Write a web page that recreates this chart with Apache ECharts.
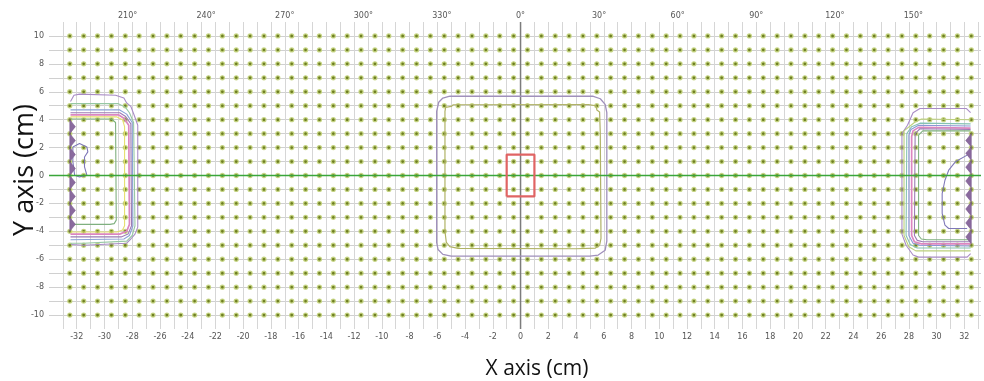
<!DOCTYPE html>
<html><head><meta charset="utf-8">
<script src="https://cdn.jsdelivr.net/npm/echarts@6/dist/echarts.min.js"></script>
<style>html,body{margin:0;padding:0;background:#fff}#c{width:984px;height:381px}</style>
</head><body><div id="c"></div>
<script>
// ---- data (cm) ----
const detectorX = [-32.5,-31.5,-30.5,-29.5,-28.5,-27.5,-26.5,-25.5,-24.5,-23.5,-22.5,-21.5,-20.5,-19.5,-18.5,-17.5,-16.5,-15.5,-14.5,-13.5,-12.5,-11.5,-10.5,-9.5,-8.5,-7.5,-6.5,-5.5,-4.5,-3.5,-2.5,-1.5,-0.5,0.5,1.5,2.5,3.5,4.5,5.5,6.5,7.5,8.5,9.5,10.5,11.5,12.5,13.5,14.5,15.5,16.5,17.5,18.5,19.5,20.5,21.5,22.5,23.5,24.5,25.5,26.5,27.5,28.5,29.5,30.5,31.5,32.5];
const detectorY = [-10,-9,-8,-7,-6,-5,-4,-3,-2,-1,0,1,2,3,4,5,6,7,8,9,10];
const xTickLabels = [-32,-30,-28,-26,-24,-22,-20,-18,-16,-14,-12,-10,-8,-6,-4,-2,0,2,4,6,8,10,12,14,16,18,20,22,24,26,28,30,32];
const yTickLabels = [-10,-8,-6,-4,-2,0,2,4,6,8,10];
const angleTicks = [-150,-120,-90,-60,-30,0,30,60,90,120,150]; // shown as 210°..150°
const xRange = [-34, 33.2];
const yRange = [-11, 11];
const angleRange = [-180, 175.8];

const fieldBox = [[-1,-1.5],[1,-1.5],[1,1.5],[-1,1.5],[-1,-1.5]];
const greenAxisLine = [[-34,0],[33.2,0]];
const centerAxisLine = [[0,-11],[0,11]];

// center contours
const centerOuter = [[-5.1,5.68],[5.2,5.68],[5.75,5.5],[6.1,5.1],[6.22,4.5],[6.22,-4.7],[6.1,-5.35],[5.6,-5.7],[5.0,-5.78],[-5.0,-5.78],[-5.6,-5.65],[-5.95,-5.3],[-6.05,-4.8],[-6.05,4.6],[-5.9,5.25],[-5.6,5.55],[-5.1,5.68]];
const centerInner = [[-5.45,4.6],[-5.4,4.88],[-5.0,4.95],[-4.85,5.07],[4.9,5.08],[5.45,5.0],[5.5,4.7],[5.7,4.55],[5.75,3.0],[5.8,-4.5],[5.7,-5.0],[5.4,-5.2],[4.0,-5.25],[-4.5,-5.22],[-5.1,-5.1],[-5.35,-4.8],[-5.45,-4.0],[-5.45,4.6]];

// left edge contours
const leftC1 = [[-32.45,5.3],[-32.2,5.75],[-31.8,5.83],[-29.2,5.75],[-28.6,5.55],[-28.4,5.2],[-28.1,4.95],[-27.85,4.3],[-27.6,3.6],[-27.6,-3.7],[-27.8,-4.2],[-28.1,-4.55],[-28.4,-4.85],[-31.5,-5.0],[-32.4,-4.95]];
const leftC2 = [[-32.45,5.15],[-29.0,5.15],[-28.5,4.9],[-28.2,4.5],[-27.9,3.8],[-27.8,-3.6],[-28.0,-4.3],[-28.4,-4.7],[-31.5,-4.85],[-32.45,-4.85]];
const leftC3 = [[-32.45,4.7],[-28.9,4.7],[-28.4,4.4],[-28.0,3.8],[-27.95,-3.6],[-28.2,-4.3],[-28.6,-4.55],[-32.45,-4.6]];
const leftC4 = [[-32.45,4.5],[-28.9,4.5],[-28.5,4.25],[-28.1,3.7],[-28.05,-3.6],[-28.3,-4.2],[-28.8,-4.4],[-32.45,-4.4]];
const leftC5 = [[-32.45,4.35],[-29.0,4.35],[-28.6,4.1],[-28.25,3.6],[-28.2,-3.5],[-28.4,-4.0],[-28.9,-4.2],[-32.45,-4.2]];
const leftC6 = [[-32.45,4.2],[-29.1,4.2],[-28.7,4.0],[-28.55,3.5],[-28.55,-3.6],[-28.7,-3.9],[-29.1,-4.05],[-32.45,-4.05]];
const leftC7 = [[-32.45,4.05],[-29.5,4.05],[-29.2,3.8],[-29.15,-3.2],[-29.3,-3.45],[-29.6,-3.5],[-32.45,-3.5]];
const leftBlob = [[-32.28,2.05],[-31.8,2.29],[-31.27,2.05],[-31.2,1.69],[-31.44,1.33],[-31.44,0.62],[-31.27,0.02],[-31.8,-0.1],[-32.15,0.02],[-32.28,1.0],[-32.28,2.05]];
const leftTeeth = [[-32.5,4.0],[-32.1,3.5],[-32.5,3.0],[-32.1,2.5],[-32.5,2.0],[-32.1,1.5],[-32.5,1.0],[-32.1,0.5],[-32.5,0.0],[-32.1,-0.5],[-32.5,-1.0],[-32.1,-1.5],[-32.5,-2.0],[-32.1,-2.5],[-32.5,-3.0],[-32.1,-3.5],[-32.5,-4.0]];

// right edge contours
const rightC1 = [[32.45,4.5],[32.15,4.8],[28.8,4.8],[28.3,4.5],[27.9,3.6],[27.5,3.0],[27.5,-4.2],[27.8,-5.0],[28.3,-5.7],[28.7,-5.85],[32.2,-5.85],[32.45,-5.6]];
const rightC2 = [[32.45,4.0],[28.9,4.05],[28.4,3.8],[27.65,3.2],[27.65,-4.3],[28.0,-5.1],[28.5,-5.4],[32.45,-5.4]];
const rightC3 = [[32.45,3.7],[28.8,3.75],[28.2,3.5],[27.85,3.0],[27.8,-4.3],[28.1,-4.95],[28.6,-5.2],[32.45,-5.2]];
const rightC4 = [[32.45,3.55],[28.7,3.6],[28.15,3.3],[28.0,2.9],[28.0,-4.3],[28.3,-4.85],[28.8,-5.0],[32.45,-5.05]];
const rightC5 = [[32.45,3.4],[28.7,3.45],[28.3,3.2],[28.2,2.8],[28.2,-4.3],[28.4,-4.75],[28.9,-4.9],[32.45,-4.9]];
const rightC6 = [[32.45,3.3],[28.8,3.35],[28.45,3.0],[28.4,-4.3],[28.6,-4.65],[29.0,-4.75],[32.45,-4.75]];
const rightC7 = [[32.45,3.2],[29.0,3.2],[28.7,2.9],[28.7,-4.3],[28.9,-4.55],[29.3,-4.6],[32.45,-4.6]];
const rightBlob = [[32.2,1.46],[31.35,0.98],[30.87,0.38],[30.6,-0.34],[30.4,-1.3],[30.4,-2.72],[30.6,-3.56],[30.87,-3.8],[32.2,-3.8]];
const rightTeeth = [[32.5,3.0],[32.1,2.5],[32.5,2.05],[32.1,1.6],[32.5,1.1],[32.1,0.6],[32.5,0.1],[32.1,-0.4],[32.5,-0.9],[32.1,-1.4],[32.5,-1.9],[32.1,-2.4],[32.5,-2.9],[32.1,-3.4],[32.5,-3.9],[32.1,-4.4],[32.5,-4.9]];

// ---- build ----
const dots = [];
detectorY.forEach(y => detectorX.forEach(x => dots.push([x, y])));

const contourDefs = [
  [leftC1,'#a98cc6',1.1],[leftC2,'#96c8a4',1.1],[leftC3,'#8aa2d6',1.1],[leftC4,'#9c7cb4',1.1],[leftC5,'#dc86c0',1.7],[leftC6,'#e6df6e',1.1],[leftC7,'#7fb07f',1.1],[leftBlob,'#7f78b8',1.1],
  [rightC1,'#a98cc6',1.1],[rightC2,'#bccf7c',1.1],[rightC3,'#86c2b4',1.1],[rightC4,'#8a96d6',1.1],[rightC5,'#dc86c0',1.7],[rightC6,'#9c7cb4',1.1],[rightC7,'#7fb07f',1.1],[rightBlob,'#7f78b8',1.1],
  [centerOuter,'#a090bc',1.3],[centerInner,'#b0b266',1.2]
];

const lineSeries = contourDefs.map(([pts,color,w]) => ({
  type:'line', data: pts, symbol:'none', silent:true, z:4, animation:false,
  lineStyle:{color:color, width:w}
}));

const teeth = [leftTeeth, rightTeeth];

const labelFont = 'DejaVu Sans';
const chart = echarts.init(document.getElementById('c'), null, {renderer:'canvas'});
chart.setOption({
  animation:false,
  backgroundColor:'#ffffff',
  grid:{left:49, top:22, width:935, height:307, containLabel:false},
  xAxis:[{
    type:'value', min:xRange[0], max:xRange[1], interval:1, position:'bottom',
    axisLine:{show:false}, axisTick:{show:false},
    splitLine:{show:true, showMinLine:false, showMaxLine:false, lineStyle:{color:'#d6d6d6', width:1}},
    axisLabel:{margin:4, fontSize:8, color:'#555', fontFamily:labelFont,
      formatter:v => xTickLabels.indexOf(v) >= 0 ? String(v) : ''}
  },{
    type:'value', min:angleRange[0], max:angleRange[1], interval:30, position:'top',
    axisLine:{show:false}, axisTick:{show:false}, splitLine:{show:false},
    axisLabel:{margin:2, fontSize:8, color:'#555', fontFamily:labelFont,
      formatter:v => angleTicks.indexOf(v) >= 0 ? (((v % 360) + 360) % 360) + '°' : ''}
  }],
  yAxis:{
    type:'value', min:yRange[0], max:yRange[1], interval:1,
    axisLine:{show:false}, axisTick:{show:false},
    splitLine:{show:true, showMinLine:false, showMaxLine:false, lineStyle:{color:'#d0d0d0', width:1}},
    axisLabel:{margin:5, fontSize:8, color:'#555', fontFamily:labelFont,
      formatter:v => yTickLabels.indexOf(v) >= 0 ? String(v) : ''}
  },
  graphic:[
    {type:'text', x:537, y:369, style:{text:'X axis (cm)', font:'21px "Open Sans"', fill:'#111', textAlign:'center', textVerticalAlign:'middle'}},
    {type:'text', x:25, y:170, rotation:Math.PI/2, style:{text:'Y axis (cm)', font:'27px "Open Sans"', fill:'#111', textAlign:'center', textVerticalAlign:'middle'}}
  ],
  series:[
    {type:'scatter', data:dots, symbolSize:4, silent:true, z:2,
      itemStyle:{color:'#6f7f22', borderColor:'rgba(196,212,128,0.9)', borderWidth:1.3, opacity:1}},
    {type:'line', data:centerAxisLine, symbol:'none', silent:true, z:3, lineStyle:{color:'#7c7c7c', width:1.5}},
    ...lineSeries,
    {type:'custom', data:[[0,0],[1,0]], silent:true, z:5,
      renderItem:(params, api) => ({
        type:'polygon',
        shape:{points: teeth[params.dataIndex].map(p => api.coord(p))},
        style:{fill:'#8a6a9e', stroke:'#7a5a8e', lineWidth:0.6}
      })},
    {type:'line', data:greenAxisLine, symbol:'none', silent:true, z:6, lineStyle:{color:'#3aa63a', width:1.6}},
    {type:'line', data:fieldBox, symbol:'none', silent:true, z:7, lineStyle:{color:'#e06464', width:2.2}}
  ]
});
</script></body></html>
